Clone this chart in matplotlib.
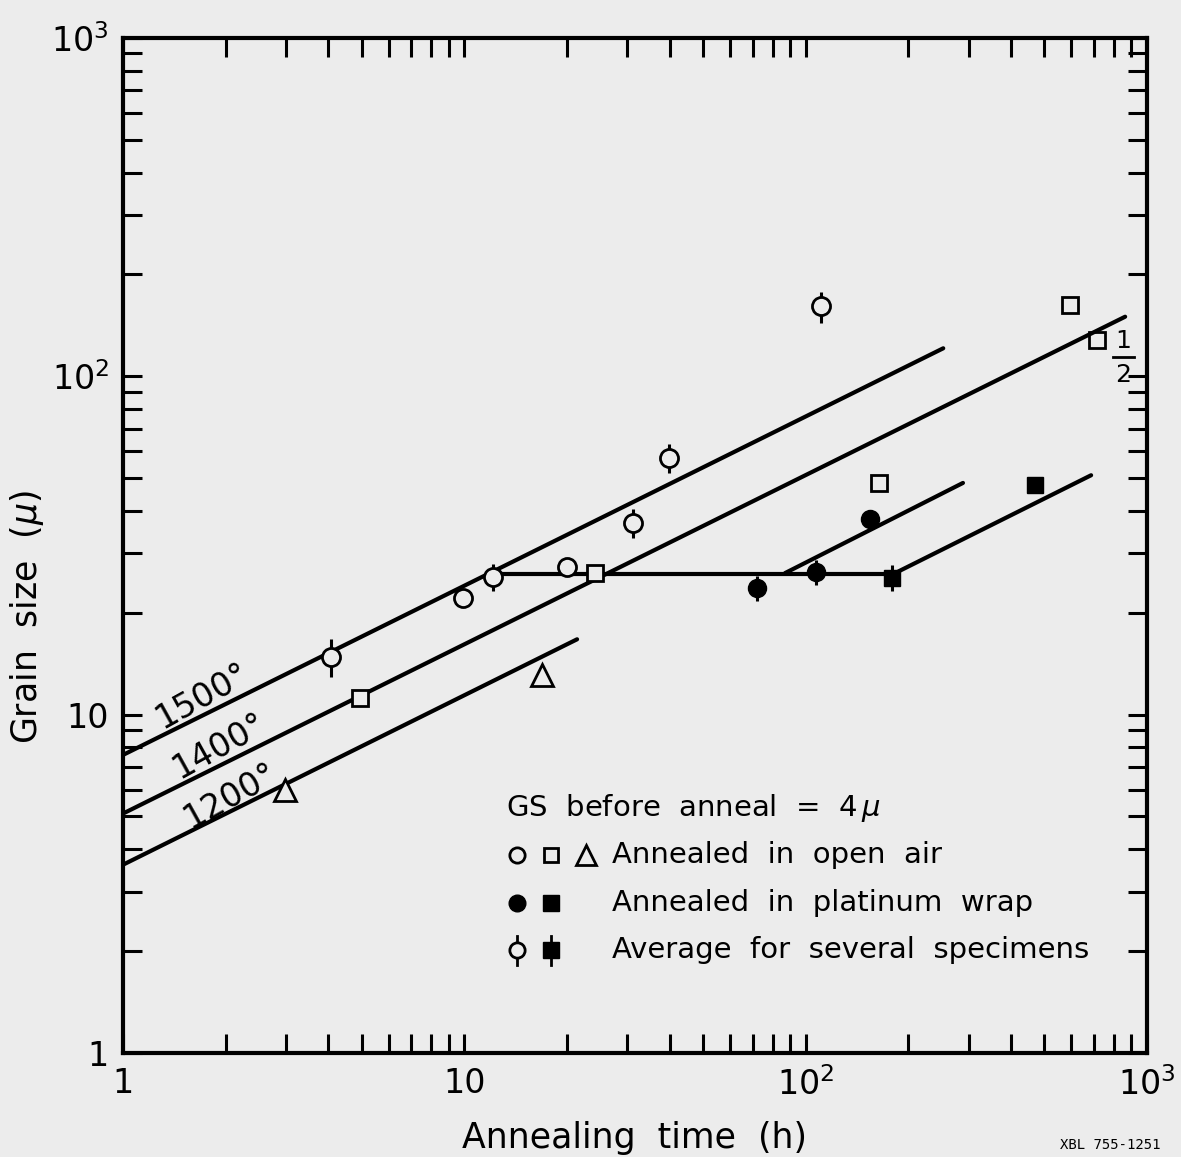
import numpy as np
import matplotlib
matplotlib.use("Agg")
import matplotlib.pyplot as plt
from matplotlib.lines import Line2D

# --- fitted lines (grain size ~ t^1/2) ---
t_1500 = [1.0, 253.0]
gs_1500 = [7.6, 121.0]
t_1400 = [1.0, 863.0]
gs_1400 = [5.1, 150.0]
t_1200 = [1.0, 21.4]
gs_1200 = [3.6, 16.7]

# platinum wrap plateau and its two branches
t_plateau = [12.7, 180.0]
gs_plateau = [26.1, 26.1]
t_branch1 = [87.0, 289.0]
gs_branch1 = [26.2, 48.4]
t_branch2 = [187.0, 686.0]
gs_branch2 = [26.5, 51.0]

# --- data points ---
# open air
t_circle = [9.9, 20.0]
gs_circle = [22.1, 27.3]
t_circle_avg = [4.07, 12.1, 31.2, 39.8, 111.0]
gs_circle_avg = [14.8, 25.5, 36.9, 57.4, 161.0]
err_circle_avg = [1.9, 2.3, 3.6, 5.5, 17.0]
t_square = [4.95, 24.2, 164.0, 595.0, 714.0]
gs_square = [11.2, 26.2, 48.4, 163.0, 128.0]
t_triangle = [2.98, 16.9]
gs_triangle = [6.0, 13.1]

# platinum wrap
t_fcircle = [154.0]
gs_fcircle = [37.9]
t_fcircle_avg = [72.0, 107.0]
gs_fcircle_avg = [23.7, 26.4]
err_fcircle_avg = [2.0, 2.2]
t_fsquare = [470.0]
gs_fsquare = [47.8]
t_fsquare_avg = [179.0]
gs_fsquare_avg = [25.4]
err_fsquare_avg = [2.2]

tick_vals = [1, 10, 100, 1000]
tick_text = ["1", "10", r"$\mathregular{10^2}$", r"$\mathregular{10^3}$"]

bg = "#ececec"
plt.rcParams["font.family"] = ["DejaVu Sans"]

fig = plt.figure(figsize=(11.81, 11.57), dpi=100, facecolor=bg)
ax = fig.add_subplot(111, facecolor=bg)
fig.subplots_adjust(left=0.1041, right=0.9712, top=0.9672, bottom=0.0899)

ax.set_xscale("log")
ax.set_yscale("log")
ax.set_xlim(1, 1000)
ax.set_ylim(1, 1000)

lw = 3.0
for t, g in [(t_1500, gs_1500), (t_1400, gs_1400), (t_1200, gs_1200),
             (t_plateau, gs_plateau), (t_branch1, gs_branch1), (t_branch2, gs_branch2)]:
    ax.plot(t, g, color="black", lw=lw, solid_capstyle="round", zorder=2)

ms = 13
mew = 2.0
# error bars first, markers on top
ax.errorbar(t_circle_avg, gs_circle_avg, yerr=err_circle_avg, fmt="none",
            ecolor="black", elinewidth=2.2, capsize=0, zorder=3)
ax.errorbar(t_fcircle_avg, gs_fcircle_avg, yerr=err_fcircle_avg, fmt="none",
            ecolor="black", elinewidth=2.2, capsize=0, zorder=3)
ax.errorbar(t_fsquare_avg, gs_fsquare_avg, yerr=err_fsquare_avg, fmt="none",
            ecolor="black", elinewidth=2.2, capsize=0, zorder=3)

ax.plot(t_circle, gs_circle, "o", ms=ms, mfc=bg, mec="black", mew=mew, zorder=4)
ax.plot(t_circle_avg, gs_circle_avg, "o", ms=ms, mfc=bg, mec="black", mew=mew, zorder=4)
ax.plot(t_square[:-1], gs_square[:-1], "s", ms=ms - 1, mfc=bg, mec="black", mew=mew, zorder=4)
# last square sits behind the 1400 line
ax.plot(t_square[-1:], gs_square[-1:], "s", ms=ms - 1, mfc=bg, mec="black", mew=mew, zorder=1)
ax.plot(t_triangle, gs_triangle, "^", ms=ms + 3, mfc=bg, mec="black", mew=mew, zorder=4)
ax.plot(t_fcircle, gs_fcircle, "o", ms=ms, color="black", zorder=4)
ax.plot(t_fcircle_avg, gs_fcircle_avg, "o", ms=ms, color="black", zorder=4)
ax.plot(t_fsquare, gs_fsquare, "s", ms=ms - 1, color="black", zorder=4)
ax.plot(t_fsquare_avg, gs_fsquare_avg, "s", ms=ms - 1, color="black", zorder=4)

# temperature labels along the lines
for label, x, y in [("1500°", 0.077, 0.352), ("1400°", 0.094, 0.302), ("1200°", 0.105, 0.253)]:
    ax.text(x, y, label, transform=ax.transAxes, rotation=29, fontsize=24,
            ha="center", va="center", rotation_mode="anchor")

# slope 1/2 note
ax.text(0.977, 0.701, "1", transform=ax.transAxes, fontsize=18, ha="center", va="center")
ax.add_line(Line2D([0.967, 0.987], [0.686, 0.686], transform=ax.transAxes,
                   color="black", lw=2))
ax.text(0.977, 0.668, "2", transform=ax.transAxes, fontsize=18, ha="center", va="center")

# legend block
tr = ax.transAxes
ax.text(0.374, 0.241, r"GS  before  anneal  =  4$\,\mu$", transform=tr, fontsize=21,
        ha="left", va="center")
rows = [0.195, 0.148, 0.101]
mx = [0.385, 0.418, 0.452]
ax.plot(mx[0], rows[0], "o", ms=11, mfc=bg, mec="black", mew=2, transform=tr)
ax.plot(mx[1], rows[0], "s", ms=10, mfc=bg, mec="black", mew=2, transform=tr)
ax.plot(mx[2], rows[0], "^", ms=14, mfc=bg, mec="black", mew=2, transform=tr)
ax.plot(mx[0], rows[1], "o", ms=12, color="black", transform=tr)
ax.plot(mx[1], rows[1], "s", ms=11, color="black", transform=tr)
ax.plot([mx[0], mx[0]], [rows[2] - 0.014, rows[2] + 0.014], color="black", lw=2, transform=tr)
ax.plot(mx[0], rows[2], "o", ms=11, mfc=bg, mec="black", mew=2, transform=tr)
ax.plot([mx[1], mx[1]], [rows[2] - 0.014, rows[2] + 0.014], color="black", lw=2, transform=tr)
ax.plot(mx[1], rows[2], "s", ms=11, color="black", transform=tr)
for y, txt in zip(rows, ["Annealed  in  open  air", "Annealed  in  platinum  wrap",
                         "Average  for  several  specimens"]):
    ax.text(0.4775, y, txt, transform=tr, fontsize=21, ha="left", va="center")

# axes styling
for s in ax.spines.values():
    s.set_linewidth(3)
ax.tick_params(which="both", direction="in", top=True, right=True,
               length=14, width=2.2, labelsize=24, pad=10)
ax.set_xticks(tick_vals)
ax.set_xticklabels(tick_text)
ax.set_yticks(tick_vals)
ax.set_yticklabels(tick_text)
ax.minorticks_on()
ax.tick_params(which="minor", labelbottom=False, labelleft=False)

ax.set_xlabel("Annealing  time  (h)", fontsize=25, labelpad=14)
ax.set_ylabel(r"Grain  size  ($\mu$)", fontsize=25)
ax.yaxis.set_label_coords(-0.075, 0.43)

fig.text(1060 / 1181, 1 - 1138 / 1157, "XBL 755-1251", fontsize=10,
         family="DejaVu Sans Mono", ha="left", va="top")

fig.savefig("out.png", dpi=100, facecolor=bg)
